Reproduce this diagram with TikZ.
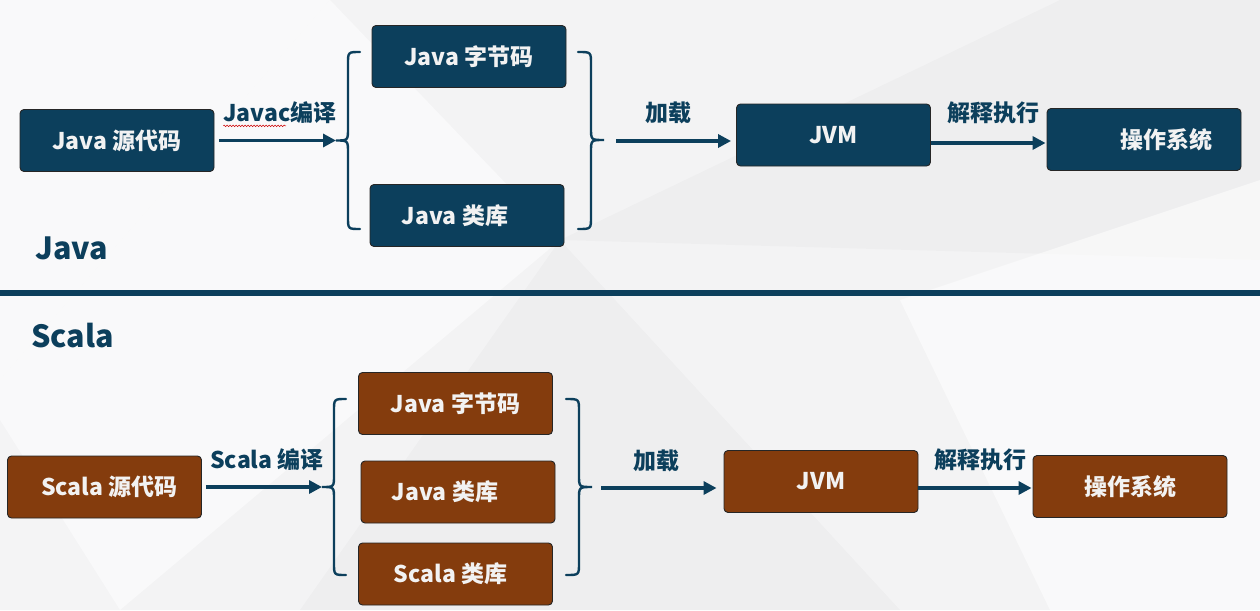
\documentclass[tikz,border=0pt]{standalone}
\usepackage{fontspec}
\setmainfont{Noto Sans CJK SC}
\usetikzlibrary{arrows.meta,decorations.pathmorphing,calc}
\definecolor{navy}{RGB}{12,63,92}
\definecolor{rust}{RGB}{132,60,13}
\definecolor{bgc}{RGB}{243,243,244}
\definecolor{txt}{RGB}{242,242,242}
\begin{document}
\begin{tikzpicture}[x=1pt,y=-1pt,
 box/.style={draw=black!85, line width=0.9pt, rounded corners=4pt, minimum width=194pt, minimum height=62pt, inner sep=0pt, text=txt, font=\bfseries\fontsize{23}{23}\selectfont},
 bluebox/.style={box, fill=navy},
 brownbox/.style={box, fill=rust},
 lbl/.style={text=navy, inner sep=0pt, font=\bfseries\fontsize{23}{23}\selectfont},
 title/.style={text=navy, inner sep=0pt, anchor=base west, font=\bfseries\fontsize{30.5}{30.5}\selectfont},
 arr/.style={draw=navy, line width=3.2pt, -{Triangle[length=13pt,width=13pt]}},
 bracestyle/.style={draw=navy, line width=2.4pt, line cap=round},
 facetlight/.style={fill=white, fill opacity=0.55, draw=none},
 facetdark/.style={fill=black, fill opacity=0.02, draw=none}
]
% background
\fill[bgc] (0,0) rectangle (1260,610);
\useasboundingbox (0,0) rectangle (1260,610);
\path[facetlight] (0,0) -- (330,0) -- (0,380) -- cycle;
\path[facetlight] (330,0) -- (560,240) -- (120,610) -- (0,610) -- (0,380) -- cycle;
\path[facetdark] (560,240) -- (1060,0) -- (1260,0) -- (1260,260) -- cycle;
\path[facetdark] (560,240) -- (900,610) -- (300,610) -- cycle;
\path[facetlight] (900,300) -- (1260,180) -- (1260,610) -- (1050,610) -- cycle;
\path[facetdark] (0,420) -- (120,610) -- (0,610) -- cycle;

% separator
\draw[navy, line width=6pt] (0,293) -- (1260,293);

% titles
\node[title] (tj) at (35,259) {Java};
\node[title] (ts) at (31,347) {Scala};

% ===== Java row =====
\node[bluebox] (src1) at (117,140.5) {Java 源代码};
\node[bluebox] (bc1) at (469,56.5) {Java 字节码};
\node[bluebox] (lib1) at (467,215.5) {Java 类库\hspace*{24pt}};
\node[bluebox] (jvm1) at (833.5,135) {JVM};
\node[bluebox] (os1) at (1144,139.5) {\hspace*{44pt}操作系统};

\draw[bracestyle] (360,52) .. controls (348,52) .. (348,64) -- (348,128) .. controls (348,140.5) .. (336,140.5) .. controls (348,140.5) .. (348,153) -- (348,217) .. controls (348,229) .. (360,229);
\coordinate (tl) at (336,140.5);
\draw[bracestyle] (578,52) .. controls (591,52) .. (591,64) -- (591,128) .. controls (591,140) .. (604,140) .. controls (591,140) .. (591,152) -- (591,217) .. controls (591,229) .. (578,229);
\coordinate (tr) at (604,141);

\draw[arr, shorten <=5pt] (src1.east) -- (tl);
\draw[arr, shorten <=12pt, shorten >=5pt] (tr) -- (tr -| jvm1.west);
\draw[arr, shorten >=1pt] ([yshift=-8pt]jvm1.east) -- ([yshift=-8pt]jvm1.east -| os1.west);

\node[lbl] (lj) at (280,113) {Javac编译};
\draw[red!80!black, line width=0.5pt, decorate, decoration={snake, amplitude=0.8pt, segment length=3pt}] ([yshift=-4pt]lj.base west) -- ([xshift=63pt,yshift=-4pt]lj.base west);
\node[lbl] (ld1) at (668,113) {加载};
\node[lbl] (le1) at (993,113) {解释执行};

% ===== Scala row =====
\node[brownbox] (src2) at (104.5,487) {\hspace*{10pt}Scala 源代码};
\node[brownbox] (bc2) at (455.5,403.5) {Java 字节码};
\node[brownbox] (lib2) at (458,492) {Java 类库\hspace*{26pt}};
\node[brownbox] (slib2) at (455.5,574) {Scala 类库\hspace*{10pt}};
\node[brownbox] (jvm2) at (821,481.5) {JVM};
\node[brownbox] (os2) at (1130,486.5) {操作系统};

\draw[bracestyle] (346,399) .. controls (334,399) .. (334,411) -- (334,475) .. controls (334,487) .. (322,487) .. controls (334,487) .. (334,499) -- (334,563) .. controls (334,575) .. (346,575);
\coordinate (bl) at (322,487);
\draw[bracestyle] (566,399) .. controls (579,399) .. (579,411) -- (579,475) .. controls (579,487) .. (592,487) .. controls (579,487) .. (579,499) -- (579,563) .. controls (579,575) .. (566,575);
\coordinate (br) at (592,488);

\draw[arr, shorten <=4pt] (src2.east) -- (bl);
\draw[arr, shorten <=9pt, shorten >=7pt] (br) -- (br -| jvm2.west);
\draw[arr, shorten >=1pt] ([yshift=-6.5pt]jvm2.east) -- ([yshift=-6.5pt]jvm2.east -| os2.west);

\node[lbl] (ls) at (267,460) {Scala 编译};
\node[lbl] (ld2) at (656,461) {加载};
\node[lbl] (le2) at (980,460) {解释执行};
\end{tikzpicture}
\end{document}
